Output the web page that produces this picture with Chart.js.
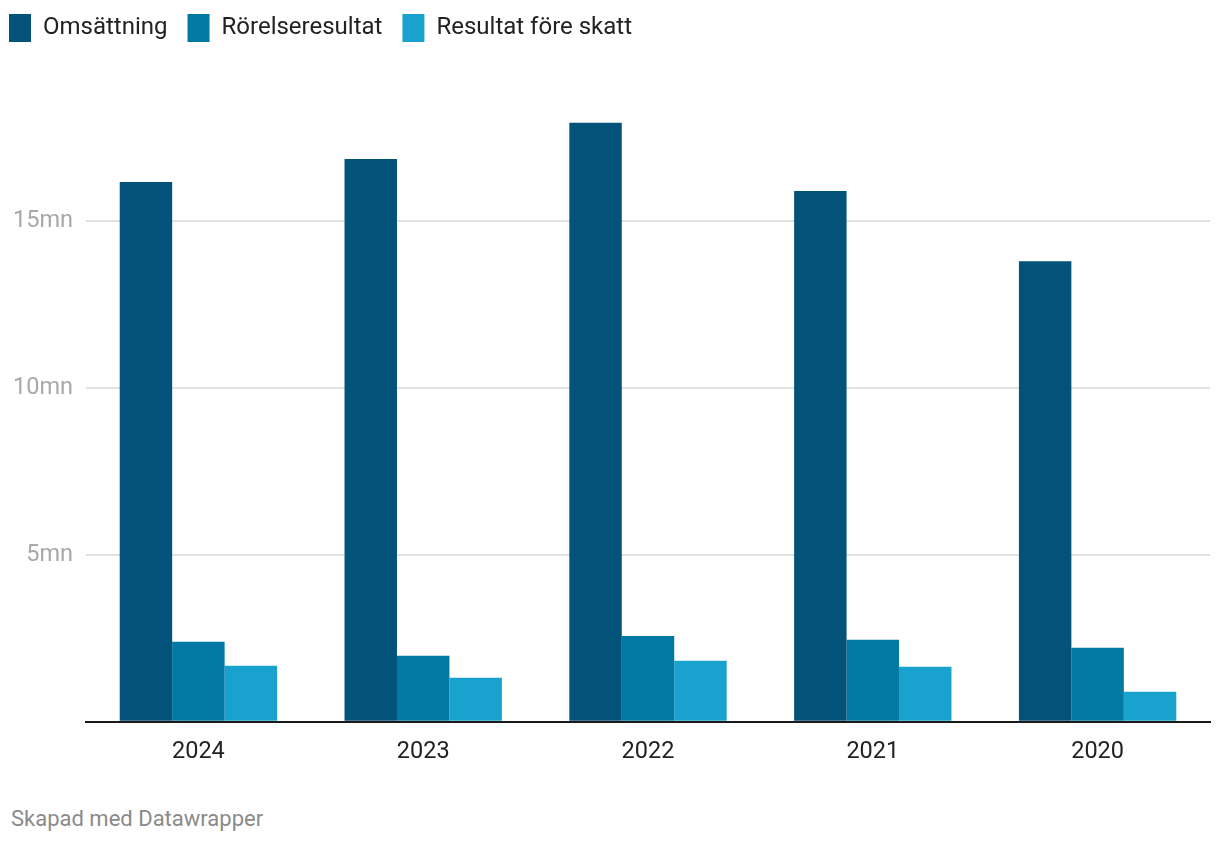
<!DOCTYPE html>
<html lang="sv">

<head>
    <meta charset="utf-8">
    <title>Omsättning och resultat</title>
    <script src="https://cdn.jsdelivr.net/npm/chart.js@4/dist/chart.umd.min.js"></script>
    <style>
        html, body { margin: 0; padding: 0; background: #fff; }
        #wrap { position: relative; width: 1220px; height: 774px; }
        #footer {
            position: absolute; left: 11px; top: 806px;
            font: 22px Roboto, sans-serif; color: #8a8a8a;
        }
    </style>
</head>

<body>
    <div id="wrap"><canvas id="chart"></canvas></div>
    <div id="footer">Skapad med Datawrapper</div>
    <script>
        const years = ['2024', '2023', '2022', '2021', '2020'];
        const omsattning = [16.17, 16.86, 17.95, 15.9, 13.8];
        const rorelseresultat = [2.4, 1.98, 2.57, 2.46, 2.22];
        const resultatForeSkatt = [1.68, 1.32, 1.83, 1.65, 0.9];
        const yTickLabels = { 5: '5mn', 10: '10mn', 15: '15mn' };

        Chart.defaults.font.family = 'Roboto, sans-serif';

        // leave room under the legend and pull the legend to the top-left corner
        const legendPlacement = {
            id: 'legendPlacement',
            beforeInit(chart) {
                const fit = chart.legend.fit;
                chart.legend.fit = function () {
                    fit.bind(chart.legend)();
                    this.height += 63;
                };
            },
            afterLayout(chart) {
                const pad = chart.legend.options.labels.padding;
                chart.legend.left = 9 - pad;
                chart.legend.top = 14 - pad;
            }
        };

        new Chart(document.getElementById('chart'), {
            type: 'bar',
            data: {
                labels: years,
                datasets: [{
                    label: 'Omsättning',
                    data: omsattning,
                    backgroundColor: '#02527a',
                }, {
                    label: 'Rörelseresultat',
                    data: rorelseresultat,
                    backgroundColor: '#0279a3',
                }, {
                    label: 'Resultat före skatt',
                    data: resultatForeSkatt,
                    backgroundColor: '#19a2cd',
                }]
            },
            plugins: [legendPlacement],
            options: {
                responsive: true,
                maintainAspectRatio: false,
                animation: false,
                categoryPercentage: 0.7,
                barPercentage: 1.0,
                layout: { padding: { left: 0, right: 10, top: 0, bottom: 0 } },
                plugins: {
                    tooltip: { enabled: false },
                    legend: {
                        align: 'start',
                        labels: {
                            boxWidth: 22,
                            boxHeight: 28,
                            padding: 20,
                            color: '#222',
                            font: { size: 24 },
                        }
                    }
                },
                scales: {
                    x: {
                        grid: { display: false },
                        border: { display: true, color: '#1a1a1a', width: 2 },
                        ticks: { color: '#222', font: { size: 23.5 }, padding: 8 },
                    },
                    y: {
                        min: 0,
                        max: 18,
                        grid: {
                            color: (ctx) => yTickLabels[ctx.tick.value] ? '#e2e2e2' : 'rgba(0,0,0,0)',
                            lineWidth: 2,
                            drawTicks: false,
                        },
                        border: { display: false },
                        ticks: {
                            stepSize: 5,
                            color: '#a8a8a8',
                            font: { size: 23.5 },
                            padding: 13,
                            callback: (v) => yTickLabels[v] || '',
                        }
                    }
                }
            }
        });
    </script>
</body>

</html>
